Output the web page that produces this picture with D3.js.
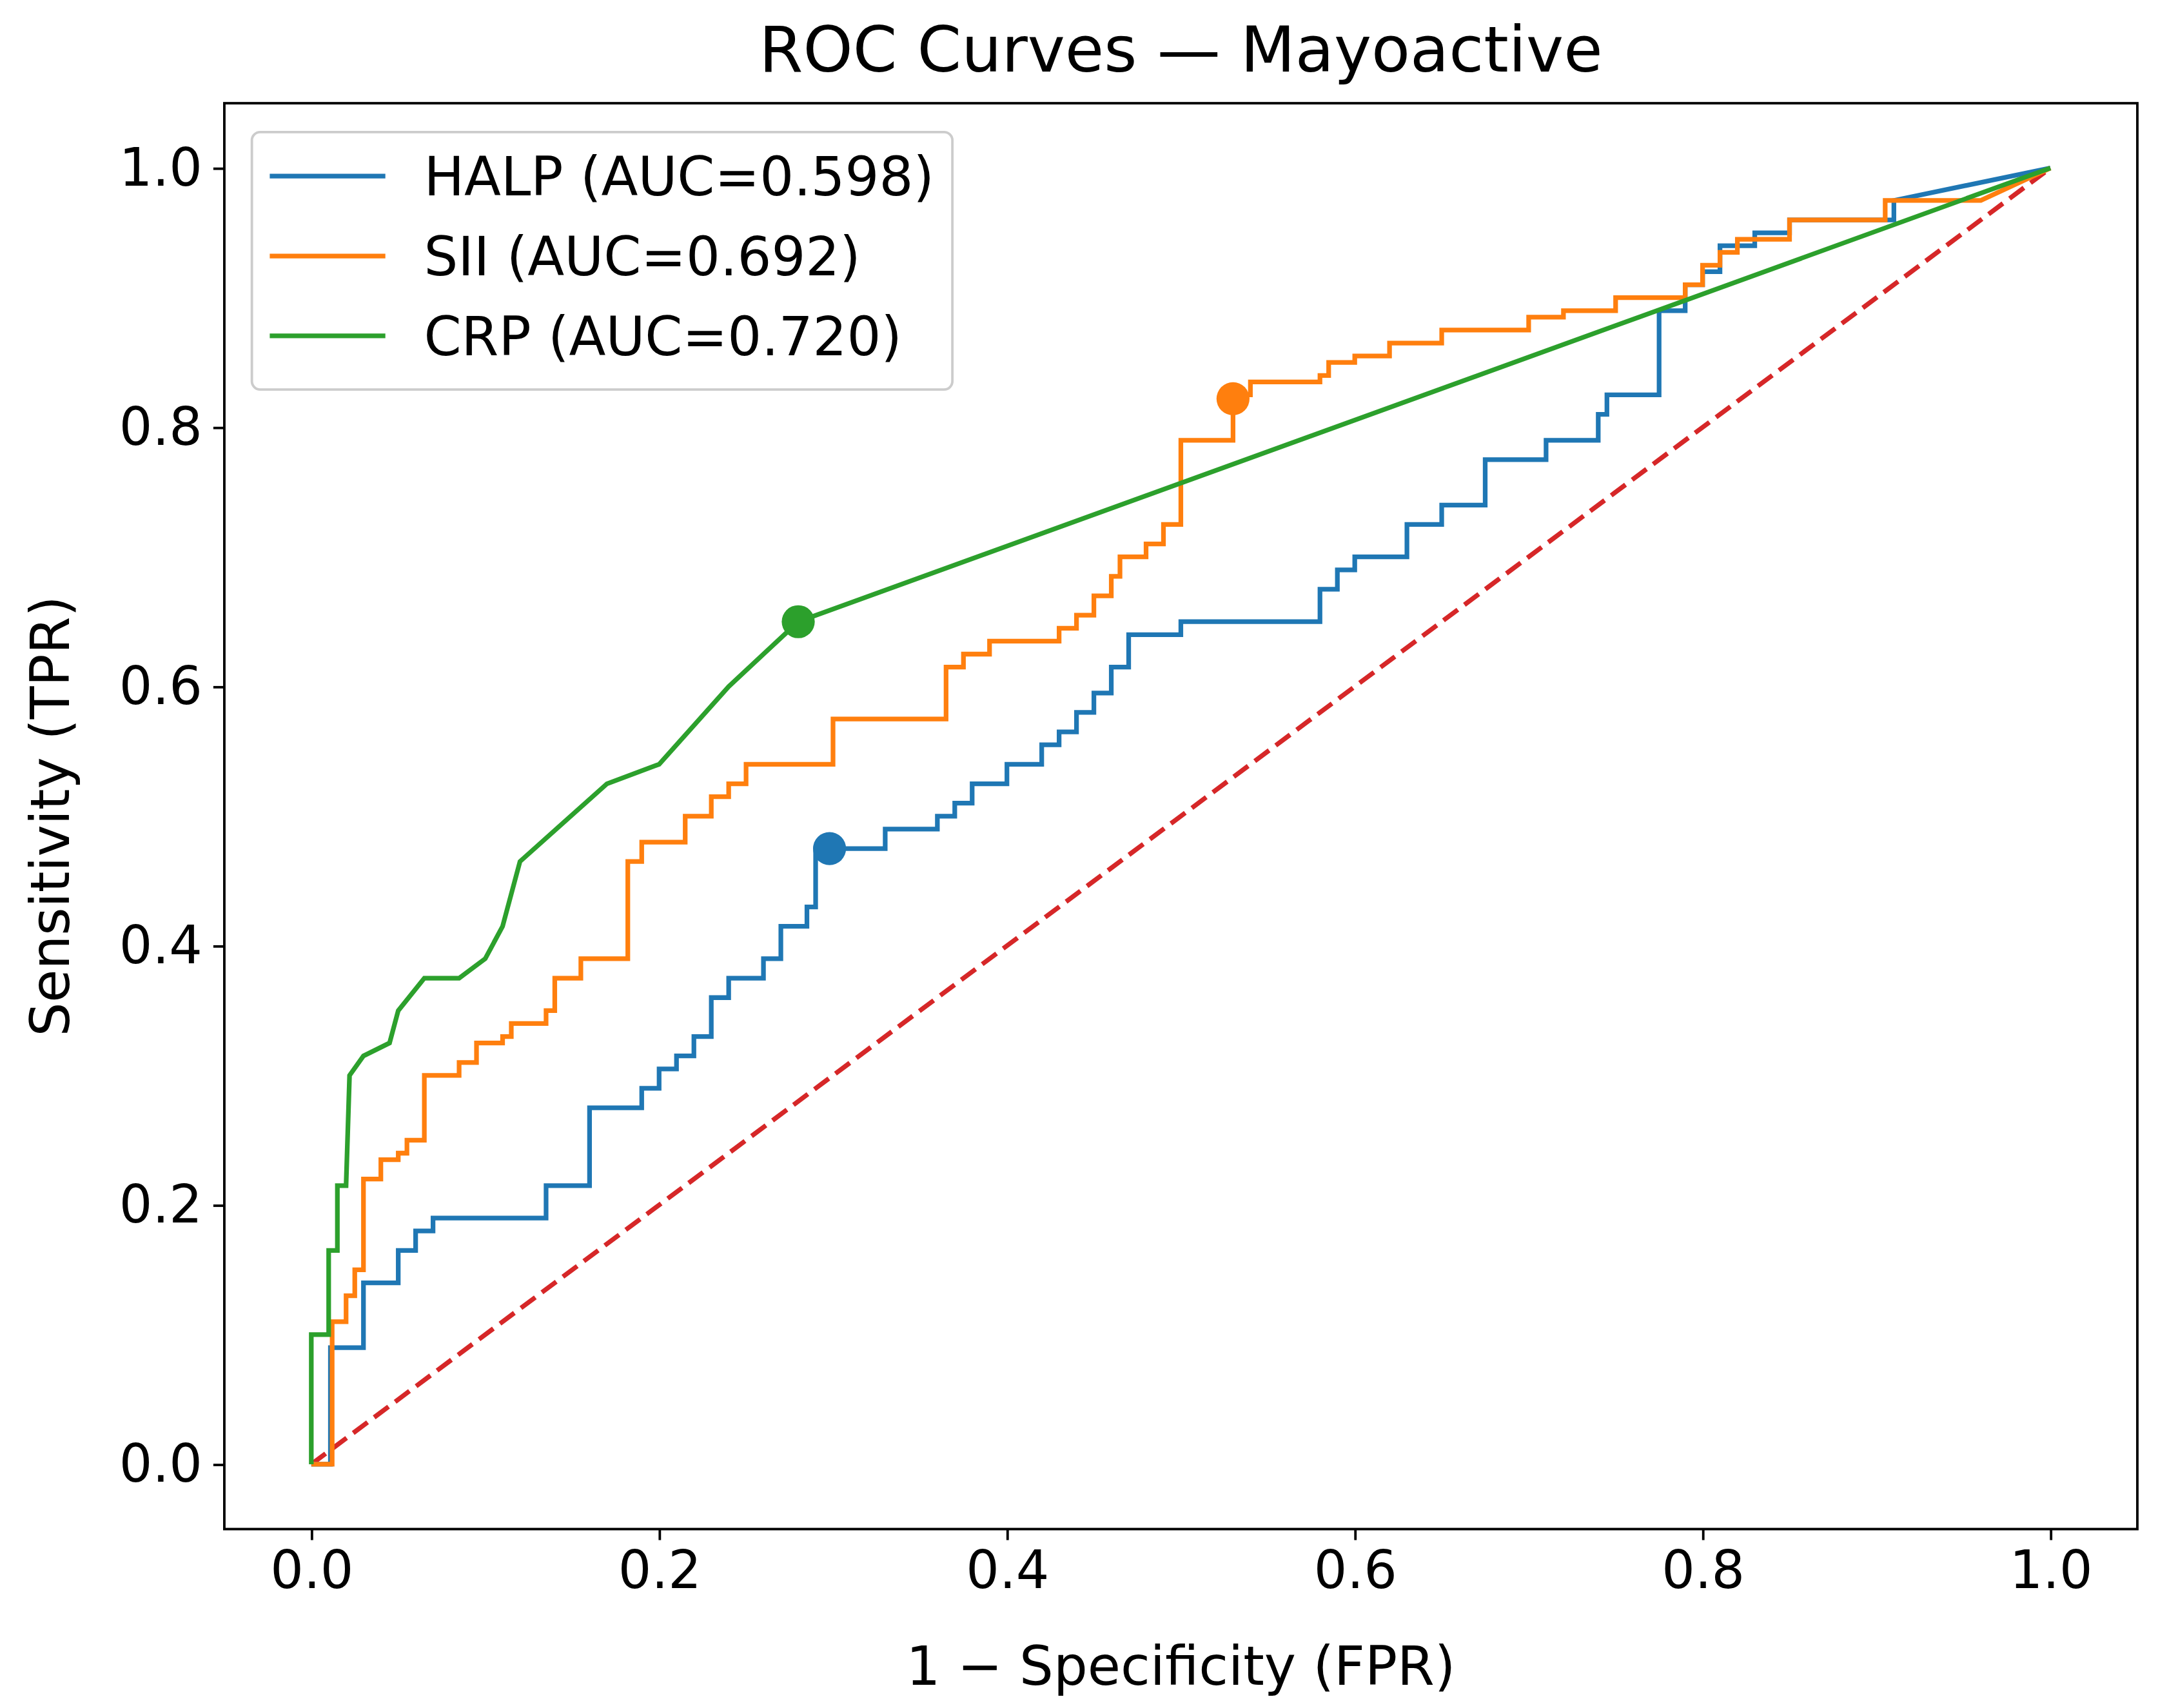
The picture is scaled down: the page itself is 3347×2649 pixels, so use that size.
<!DOCTYPE html>
<html><head><style>body{margin:0;background:#fff}</style></head>
<body>
<svg width="3347" height="2649" viewBox="0 0 1568 1241"></svg>
<script src="https://d3js.org/d3.v7.min.js"></script>
<script>
// step ROC curves: each point = position after a jump (horizontal first, then vertical)
// the last point of each step curve is joined by a straight segment
var halp = [[0,0],[0.011,0.02],[0.011,0.09],[0.03,0.14],[0.05,0.165],[0.06,0.18],[0.07,0.19],[0.135,0.215],[0.16,0.275],[0.19,0.29],[0.2,0.305],[0.21,0.315],[0.22,0.33],[0.23,0.36],[0.24,0.375],[0.26,0.39],[0.27,0.415],[0.285,0.43],[0.29,0.475],[0.33,0.49],[0.36,0.5],[0.37,0.51],[0.38,0.525],[0.4,0.54],[0.42,0.555],[0.43,0.565],[0.44,0.58],[0.45,0.595],[0.46,0.615],[0.47,0.64],[0.5,0.65],[0.58,0.675],[0.59,0.69],[0.6,0.7],[0.63,0.725],[0.65,0.74],[0.675,0.775],[0.71,0.79],[0.74,0.81],[0.745,0.825],[0.775,0.84],[0.775,0.89],[0.79,0.91],[0.8,0.92],[0.81,0.94],[0.83,0.95],[0.85,0.96],[0.91,0.975],[1,1]];
var sii = [[0,0],[0.012,0.11],[0.02,0.13],[0.025,0.15],[0.03,0.22],[0.04,0.235],[0.05,0.24],[0.055,0.25],[0.065,0.3],[0.085,0.31],[0.095,0.325],[0.11,0.33],[0.115,0.34],[0.135,0.35],[0.14,0.375],[0.155,0.39],[0.182,0.465],[0.19,0.48],[0.215,0.5],[0.23,0.515],[0.24,0.525],[0.25,0.54],[0.3,0.575],[0.365,0.615],[0.375,0.625],[0.39,0.635],[0.43,0.645],[0.44,0.655],[0.45,0.67],[0.46,0.685],[0.465,0.7],[0.48,0.71],[0.49,0.725],[0.5,0.79],[0.53,0.825],[0.54,0.835],[0.58,0.84],[0.585,0.85],[0.6,0.855],[0.62,0.865],[0.65,0.875],[0.7,0.885],[0.72,0.89],[0.75,0.9],[0.79,0.91],[0.8,0.925],[0.81,0.935],[0.82,0.945],[0.85,0.96],[0.905,0.975],[0.96,0.975],[1,1]];
// CRP has few thresholds, drawn linearly
var crp = [[0,0],[0,0.1],[0.01,0.1],[0.01,0.165],[0.015,0.165],[0.015,0.215],[0.02,0.215],[0.022,0.3],[0.03,0.315],[0.045,0.325],[0.05,0.35],[0.065,0.375],[0.085,0.375],[0.1,0.39],[0.11,0.415],[0.12,0.465],[0.17,0.525],[0.2,0.54],[0.24,0.6],[0.28,0.65],[1,1]];
var cutoffs = [[0.298,0.475],[0.53,0.822],[0.28,0.65]];
var names = ["HALP (AUC=0.598)","SII (AUC=0.692)","CRP (AUC=0.720)"];
var colors = ["#1f77b4","#ff7f0e","#2ca02c"];
var ticks = [0,0.2,0.4,0.6,0.8,1.0];

var svg = d3.select("svg"), font = "DejaVu Sans, sans-serif";
var L = 163, R = 1553, T = 75, B = 1111;
var x = d3.scaleLinear().domain([-0.05,1.05]).range([L,R]);
var y = d3.scaleLinear().domain([-0.05,1.05]).range([B,T]);

svg.append("line").attr("x1",x(0)).attr("y1",y(0)).attr("x2",x(1)).attr("y2",y(1))
  .attr("stroke","#d62728").attr("stroke-width",3.4).attr("stroke-dasharray","13,6");

var stepLine = d3.line().x(d=>x(d[0])).y(d=>y(d[1])).curve(d3.curveStepAfter);
var linLine = d3.line().x(d=>x(d[0])).y(d=>y(d[1]));
function stepPath(pts){
  var n = pts.length;
  return stepLine(pts.slice(0,n-1)) + "L" + x(pts[n-1][0]) + "," + y(pts[n-1][1]);
}
[halp,sii].forEach(function(s,i){
  svg.append("path").attr("d",stepPath(s)).attr("fill","none")
    .attr("stroke",colors[i]).attr("stroke-width",3.4);
});
svg.append("path").attr("d",linLine(crp)).attr("fill","none")
  .attr("stroke",colors[2]).attr("stroke-width",3.4);
cutoffs.forEach(function(c,i){
  svg.append("circle").attr("cx",x(c[0])).attr("cy",y(c[1])).attr("r",12).attr("fill",colors[i]);
});

var xa = svg.append("g").attr("transform","translate(0,"+B+")")
  .call(d3.axisBottom(x).tickValues(ticks).tickFormat(d3.format(".1f")).tickSize(8).tickPadding(8));
var ya = svg.append("g").attr("transform","translate("+L+",0)")
  .call(d3.axisLeft(y).tickValues(ticks).tickFormat(d3.format(".1f")).tickSize(8).tickPadding(8));
[xa,ya].forEach(function(a){
  a.select(".domain").remove();
  a.selectAll("line").attr("stroke","#000").attr("stroke-width",1.8);
  a.selectAll("text").attr("font-family",font).attr("font-size",38).attr("fill","#000");
});
svg.append("rect").attr("x",L).attr("y",T).attr("width",R-L).attr("height",B-T)
  .attr("fill","none").attr("stroke","#000").attr("stroke-width",1.8);

svg.append("text").attr("x",(L+R)/2).attr("y",52).attr("text-anchor","middle")
  .attr("font-family",font).attr("font-size",46).text("ROC Curves — Mayoactive");
svg.append("text").attr("x",(L+R)/2).attr("y",1224).attr("text-anchor","middle")
  .attr("font-family",font).attr("font-size",39).text("1 − Specificity (FPR)");
svg.append("text").attr("transform","translate(50,"+((T+B)/2)+") rotate(-90)").attr("text-anchor","middle")
  .attr("font-family",font).attr("font-size",39).text("Sensitivity (TPR)");

var lg = svg.append("g");
lg.append("rect").attr("x",183).attr("y",96).attr("width",509).attr("height",187).attr("rx",6)
  .attr("fill","#fff").attr("fill-opacity",0.8).attr("stroke","#ccc").attr("stroke-width",1.8);
names.forEach(function(n,i){
  var yy = 128 + i*58;
  lg.append("line").attr("x1",196).attr("x2",280).attr("y1",yy).attr("y2",yy)
    .attr("stroke",colors[i]).attr("stroke-width",3.4);
  lg.append("text").attr("x",308).attr("y",yy+14).attr("font-family",font).attr("font-size",39).text(n);
});
</script>
</body></html>
